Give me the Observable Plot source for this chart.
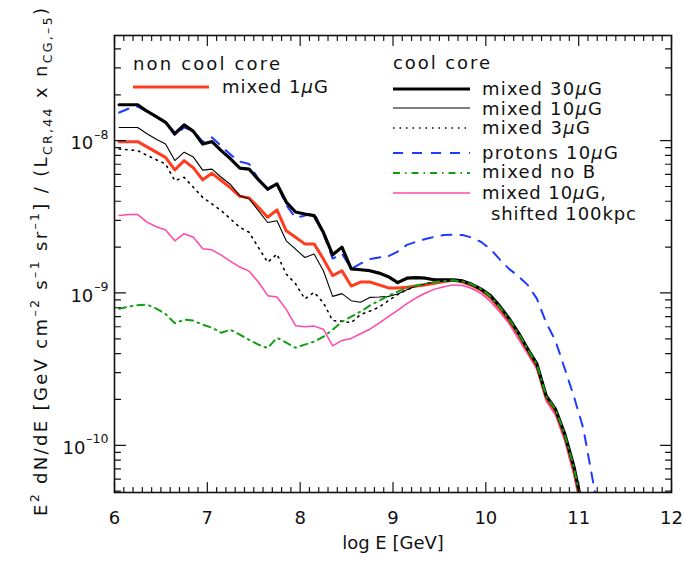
<!DOCTYPE html>
<html>
<head>
<meta charset="utf-8">
<script src="https://cdn.jsdelivr.net/npm/d3@7"></script>
<script src="https://cdn.jsdelivr.net/npm/@observablehq/plot@0.6"></script>
<style>
  html, body { margin: 0; padding: 0; background: #fff; }
  #chart { width: 684px; height: 561px; }
</style>
</head>
<body>
<div id="chart"></div>
<script>
// ---- data (log10 of energy in GeV, bin centres) ----
const logE = [
  6.05, 6.15, 6.25, 6.35, 6.45, 6.55, 6.65, 6.75, 6.85, 6.95,
  7.05, 7.15, 7.25, 7.35, 7.45, 7.55, 7.65, 7.75, 7.85, 7.95,
  8.05, 8.15, 8.25, 8.35, 8.45, 8.55, 8.65, 8.75, 8.85, 8.95,
  9.05, 9.15, 9.25, 9.35, 9.45, 9.55, 9.65, 9.75, 9.85, 9.95,
  10.05, 10.15, 10.25, 10.35, 10.45, 10.55, 10.65, 10.75, 10.85, 10.95,
  11.05
];
const logEProtons = [
  6.05, 6.15, 6.25, 6.35, 6.45, 6.55, 6.65, 6.75, 6.85, 6.95,
  7.05, 7.15, 7.25, 7.35, 7.45, 7.55, 7.65, 7.75, 7.85, 7.95,
  8.05, 8.15, 8.25, 8.35, 8.45, 8.55, 8.65, 8.75, 8.85, 8.95,
  9.05, 9.15, 9.25, 9.35, 9.45, 9.55, 9.65, 9.75, 9.85, 9.95,
  10.05, 10.15, 10.25, 10.35, 10.45, 10.55, 10.65, 10.75, 10.85, 10.95,
  11.05, 11.15, 11.25
];
// non cool core
const mixed1uG = [
  9.85e-9, 9.85e-9, 9.85e-9, 9.1e-9, 8.4e-9, 7.77e-9, 6.42e-9, 7.39e-9, 6.62e-9, 5.53e-9,
  6.1e-9, 5.47e-9, 4.9e-9, 4.31e-9, 4.2e-9, 3.65e-9, 3.14e-9, 3.51e-9, 2.56e-9, 2.32e-9,
  2.1e-9, 2.1e-9, 1.67e-9, 1.30e-9, 1.40e-9, 1.11e-9, 1.18e-9, 1.18e-9, 1.13e-9, 1.08e-9,
  1.08e-9, 1.09e-9, 1.11e-9, 1.13e-9, 1.16e-9, 1.19e-9, 1.21e-9, 1.18e-9, 1.12e-9, 1.04e-9,
  9.3e-10, 7.9e-10, 6.6e-10, 5.35e-10, 4.15e-10, 3.3e-10, 2.05e-10, 1.67e-10, 1.14e-10, 6.8e-11,
  3.5e-11
];
// cool core
const mixed30uG = [
  1.72e-8, 1.72e-8, 1.72e-8, 1.56e-8, 1.44e-8, 1.32e-8, 1.11e-8, 1.27e-8, 1.15e-8, 9.5e-9,
  9.85e-9, 8.6e-9, 7.6e-9, 6.6e-9, 6.5e-9, 5.55e-9, 4.8e-9, 5.2e-9, 3.95e-9, 3.4e-9,
  3.3e-9, 3.22e-9, 2.5e-9, 1.78e-9, 2.0e-9, 1.44e-9, 1.42e-9, 1.40e-9, 1.35e-9, 1.28e-9,
  1.17e-9, 1.25e-9, 1.26e-9, 1.25e-9, 1.22e-9, 1.22e-9, 1.22e-9, 1.2e-9, 1.14e-9, 1.06e-9,
  9.6e-10, 8.2e-10, 6.8e-10, 5.5e-10, 4.3e-10, 3.42e-10, 2.12e-10, 1.73e-10, 1.19e-10, 7.2e-11,
  3.7e-11
];
const mixed10uG = [
  1.22e-8, 1.22e-8, 1.22e-8, 1.11e-8, 1.02e-8, 9.5e-9, 7.4e-9, 8.4e-9, 7.8e-9, 6.4e-9,
  6.5e-9, 5.75e-9, 5.15e-9, 4.35e-9, 4.15e-9, 3.47e-9, 2.9e-9, 2.98e-9, 2.2e-9, 1.94e-9,
  1.71e-9, 1.8e-9, 1.4e-9, 9.5e-10, 9.9e-10, 8.9e-10, 8.7e-10, 9.35e-10, 9.4e-10, 9.5e-10,
  9.85e-10, 1.05e-9, 1.11e-9, 1.15e-9, 1.18e-9, 1.2e-9, 1.21e-9, 1.19e-9, 1.14e-9, 1.06e-9,
  9.5e-10, 8.1e-10, 6.75e-10, 5.45e-10, 4.28e-10, 3.4e-10, 2.1e-10, 1.72e-10, 1.18e-10, 7.1e-11,
  3.6e-11
];
const mixed3uG = [
  8.82e-9, 8.7e-9, 8.6e-9, 8.0e-9, 7.5e-9, 7.03e-9, 5.46e-9, 5.74e-9, 4.94e-9, 4.24e-9,
  3.84e-9, 3.47e-9, 3.06e-9, 2.7e-9, 2.5e-9, 1.99e-9, 1.59e-9, 1.8e-9, 1.33e-9, 1.15e-9,
  9.14e-10, 1.01e-9, 8.63e-10, 6.58e-10, 6.53e-10, 6.38e-10, 7.21e-10, 7.6e-10, 8.07e-10, 8.9e-10,
  9.75e-10, 1.05e-9, 1.11e-9, 1.15e-9, 1.18e-9, 1.2e-9, 1.21e-9, 1.19e-9, 1.14e-9, 1.06e-9,
  9.5e-10, 8.1e-10, 6.75e-10, 5.45e-10, 4.28e-10, 3.4e-10, 2.1e-10, 1.72e-10, 1.18e-10, 7.1e-11,
  3.6e-11
];
const protons10uG = [
  1.53e-8, 1.62e-8, 1.67e-8, 1.55e-8, 1.43e-8, 1.32e-8, 1.08e-8, 1.22e-8, 1.16e-8, 9.85e-9,
  1.05e-8, 9.2e-9, 8.1e-9, 7.28e-9, 7.03e-9, 5.59e-9, 4.77e-9, 5.2e-9, 3.77e-9, 3.12e-9,
  3.22e-9, 3.37e-9, 2.45e-9, 1.68e-9, 1.81e-9, 1.44e-9, 1.56e-9, 1.67e-9, 1.71e-9, 1.74e-9,
  1.87e-9, 2.07e-9, 2.17e-9, 2.26e-9, 2.34e-9, 2.4e-9, 2.41e-9, 2.4e-9, 2.31e-9, 2.16e-9,
  1.94e-9, 1.66e-9, 1.44e-9, 1.29e-9, 1.13e-9, 9.18e-10, 6.38e-10, 4.86e-10, 3.18e-10, 2.08e-10,
  1.29e-10, 6.0e-11, 2.7e-11
];
const mixedNoB = [
  7.89e-10, 8.13e-10, 8.32e-10, 8.4e-10, 7.89e-10, 7.28e-10, 6.33e-10, 6.68e-10, 6.58e-10, 6.19e-10,
  5.92e-10, 5.48e-10, 5.74e-10, 5.32e-10, 4.93e-10, 4.58e-10, 4.35e-10, 5.08e-10, 4.72e-10, 4.37e-10,
  4.58e-10, 4.79e-10, 5.16e-10, 5.74e-10, 6.48e-10, 6.99e-10, 7.54e-10, 8.26e-10, 8.9e-10, 9.6e-10,
  1.02e-9, 1.08e-9, 1.12e-9, 1.15e-9, 1.18e-9, 1.2e-9, 1.21e-9, 1.19e-9, 1.14e-9, 1.06e-9,
  9.5e-10, 8.1e-10, 6.75e-10, 5.45e-10, 4.28e-10, 3.4e-10, 2.1e-10, 1.72e-10, 1.18e-10, 7.1e-11,
  3.6e-11
];
const mixed10uGShifted = [
  3.22e-9, 3.27e-9, 3.27e-9, 2.92e-9, 2.72e-9, 2.59e-9, 2.2e-9, 2.45e-9, 2.32e-9, 1.95e-9,
  1.92e-9, 1.77e-9, 1.61e-9, 1.48e-9, 1.39e-9, 1.18e-9, 9.6e-10, 9.4e-10, 7.8e-10, 6.1e-10,
  6.0e-10, 6.06e-10, 5.78e-10, 4.5e-10, 4.88e-10, 5.03e-10, 5.4e-10, 5.78e-10, 6.33e-10, 7.0e-10,
  7.7e-10, 8.5e-10, 9.3e-10, 1.0e-9, 1.06e-9, 1.10e-9, 1.13e-9, 1.12e-9, 1.07e-9, 9.9e-10,
  8.8e-10, 7.5e-10, 6.3e-10, 5.0e-10, 4.0e-10, 3.15e-10, 1.95e-10, 1.58e-10, 1.07e-10, 6.3e-11,
  3.2e-11
];
const xTickLabels = [6, 7, 8, 9, 10, 11, 12];
const yTickValues = [1e-10, 1e-9, 1e-8];
const yTickExponents = ["\u201310", "\u20139", "\u20138"];

// ---- styles ----
const FONT = "DejaVu Sans";
const series = [
  {name: "mixed 10µG, shifted 100kpc", xs: logE, ys: mixed10uGShifted, stroke: "#ff48a8", sw: 1.5, dash: null},
  {name: "mixed 1µG", xs: logE, ys: mixed1uG, stroke: "#ff3c1e", sw: 3, dash: null},
  {name: "protons 10µG", xs: logEProtons, ys: protons10uG, stroke: "#1e3cff", sw: 2, dash: "10,9"},
  {name: "mixed 30µG", xs: logE, ys: mixed30uG, stroke: "#000", sw: 3.2, dash: null},
  {name: "mixed 10µG", xs: logE, ys: mixed10uG, stroke: "#000", sw: 1.1, dash: null},
  {name: "mixed 3µG", xs: logE, ys: mixed3uG, stroke: "#000", sw: 1.6, dash: "1.5,5"},
  {name: "mixed no B", xs: logE, ys: mixedNoB, stroke: "#11a011", sw: 2, dash: "7,5,1.5,5"}
];
const rows = s => s.xs.map((x, i) => ({x, y: s.ys[i]}));

const yDomain = [4.9e-11, 4.9e-8];
const xMinor = d3.range(60, 121).map(d => d / 10).filter(d => Math.abs(d - Math.round(d)) > 1e-6);
const yAll = d3.scaleLog().domain(yDomain).ticks();
const yMinor = yAll.filter(v => !yTickValues.some(t => Math.abs(v / t - 1) < 1e-6));

const tickShape = {draw(ctx, l) { ctx.moveTo(0, 0); ctx.lineTo(0, -l); }};
const tickCommon = {shape: tickShape, anchor: "start", stroke: "#111", strokeWidth: 1.2};

const marks = [];
for (const s of series) {
  marks.push(Plot.line(rows(s), {
    x: "x", y: "y", stroke: s.stroke, strokeWidth: s.sw,
    strokeDasharray: s.dash, clip: true, strokeLinejoin: "round"
  }));
}
marks.push(Plot.frame({stroke: "#111", strokeWidth: 1.6}));
// x ticks bottom & top
marks.push(Plot.vector(xTickLabels, {x: d => d, frameAnchor: "bottom", length: 10, rotate: 0, ...tickCommon}));
marks.push(Plot.vector(xMinor, {x: d => d, frameAnchor: "bottom", length: 5, rotate: 0, ...tickCommon}));
marks.push(Plot.vector(xTickLabels, {x: d => d, frameAnchor: "top", length: 10, rotate: 180, ...tickCommon}));
marks.push(Plot.vector(xMinor, {x: d => d, frameAnchor: "top", length: 5, rotate: 180, ...tickCommon}));
// y ticks left & right
marks.push(Plot.vector(yTickValues, {y: d => d, frameAnchor: "left", length: 11, rotate: 90, ...tickCommon}));
marks.push(Plot.vector(yMinor, {y: d => d, frameAnchor: "left", length: 6, rotate: 90, ...tickCommon}));
marks.push(Plot.vector(yTickValues, {y: d => d, frameAnchor: "right", length: 11, rotate: -90, ...tickCommon}));
marks.push(Plot.vector(yMinor, {y: d => d, frameAnchor: "right", length: 6, rotate: -90, ...tickCommon}));
// tick labels
marks.push(Plot.text(xTickLabels, {
  x: d => d, text: d => String(d), frameAnchor: "bottom", dy: 26,
  fontSize: 18, fontFamily: FONT, fill: "#111", lineAnchor: "middle"
}));
// y tick labels: "10" + superscript exponent, right-aligned as a whole
const EXP_SIZE = 12.5;
yTickValues.forEach((v, i) => {
  const expStr = yTickExponents[i];
  const expW = (0.5 + 0.636 * (expStr.length - 1)) * EXP_SIZE;
  marks.push(Plot.text([v], {
    y: d => d, text: () => expStr, frameAnchor: "left", dx: -6, dy: -6, textAnchor: "end",
    fontSize: EXP_SIZE, fontFamily: FONT, fill: "#111", lineAnchor: "middle"
  }));
  marks.push(Plot.text([v], {
    y: d => d, text: () => "10", frameAnchor: "left", dx: -6 - expW - 1, dy: 3, textAnchor: "end",
    fontSize: 18, fontFamily: FONT, fill: "#111", lineAnchor: "middle"
  }));
});
marks.push(Plot.text(["log E [GeV]"], {
  text: d => d, frameAnchor: "bottom", dy: 51, fontSize: 18, fontFamily: FONT, fill: "#111", lineAnchor: "middle"
}));

const plot = Plot.plot({
  width: 684, height: 561,
  marginLeft: 114, marginRight: 13, marginTop: 35, marginBottom: 69,
  x: {domain: [6, 12], axis: null},
  y: {type: "log", domain: yDomain, axis: null},
  style: {fontFamily: FONT, background: "#fff", color: "#111"},
  marks
});

// ---- y axis title & legend (text with super/subscripts) ----
const svg = d3.select(plot);
function richText(parent, x, y, parts, opts = {}) {
  const t = parent.append("text")
    .attr("x", x).attr("y", y)
    .attr("font-family", FONT).attr("font-size", opts.size || 18)
    .attr("fill", "#111")
    .attr("text-anchor", opts.anchor || "start");
  if (opts.transform) t.attr("transform", opts.transform);
  if (opts.length) t.attr("textLength", opts.length).attr("lengthAdjust", "spacing");
  let prev = 0;
  for (const p of parts) {
    const ts = t.append("tspan").text(p.t);
    const sh = p.shift || 0;
    if (sh !== prev) ts.attr("dy", sh - prev);
    prev = sh;
    if (p.size) ts.attr("font-size", p.size);
    if (p.italic) ts.attr("font-style", "italic");
  }
  return t;
}
const SUP = -8, SUB = 5, SS = 12.5;
richText(svg, 0, 0, [
  {t: "E"}, {t: "2", shift: SUP, size: SS}, {t: " dN/dE [GeV cm"}, {t: "\u20132", shift: SUP, size: SS},
  {t: " s"}, {t: "\u20131", shift: SUP, size: SS}, {t: " sr"}, {t: "\u20131", shift: SUP, size: SS},
  {t: "] / (L"}, {t: "CR,44", shift: SUB, size: SS}, {t: " x n"}, {t: "CG,\u20135", shift: SUB, size: SS}, {t: ")"}
], {anchor: "middle", transform: "translate(47,262) rotate(-90)", length: 508});

const mu = [{t: "μ", italic: true}];
richText(svg, 133, 70, [{t: "non cool core"}], {length: 147});
richText(svg, 393, 69, [{t: "cool core"}], {length: 97});

const legendItems = [
  {s: series[1], x1: 133, x2: 209, y: 87, tx: 222, ty: 93, parts: [{t: "mixed 1"}, ...mu, {t: "G"}], len: 106},
  {s: series[3], x1: 393, x2: 470, y: 89, tx: 482, ty: 94.5, parts: [{t: "mixed 30"}, ...mu, {t: "G"}], len: 120},
  {s: series[4], x1: 393, x2: 470, y: 108, tx: 482, ty: 114.5, parts: [{t: "mixed 10"}, ...mu, {t: "G"}], len: 120},
  {s: series[5], x1: 393, x2: 470, y: 128, tx: 482, ty: 133.5, parts: [{t: "mixed 3"}, ...mu, {t: "G"}], len: 108},
  {s: series[2], x1: 393, x2: 470, y: 153, tx: 482, ty: 158.5, parts: [{t: "protons 10"}, ...mu, {t: "G"}], len: 136},
  {s: series[6], x1: 393, x2: 470, y: 173, tx: 482, ty: 177.5, parts: [{t: "mixed no B"}], len: 113},
  {s: series[0], x1: 393, x2: 470, y: 193, tx: 482, ty: 198.5, parts: [{t: "mixed 10"}, ...mu, {t: "G,"}], len: 124}
];
const lg = svg.append("g");
for (const it of legendItems) {
  const ln = lg.append("line")
    .attr("x1", it.x1).attr("x2", it.x2).attr("y1", it.y).attr("y2", it.y)
    .attr("stroke", it.s.stroke).attr("stroke-width", it.s.sw);
  if (it.s.dash) ln.attr("stroke-dasharray", it.s.dash);
  richText(lg, it.tx, it.ty, it.parts, {length: it.len});
}
richText(lg, 491, 220, [{t: "shifted 100kpc"}], {length: 145});

document.getElementById("chart").appendChild(plot);
</script>
</body>
</html>
